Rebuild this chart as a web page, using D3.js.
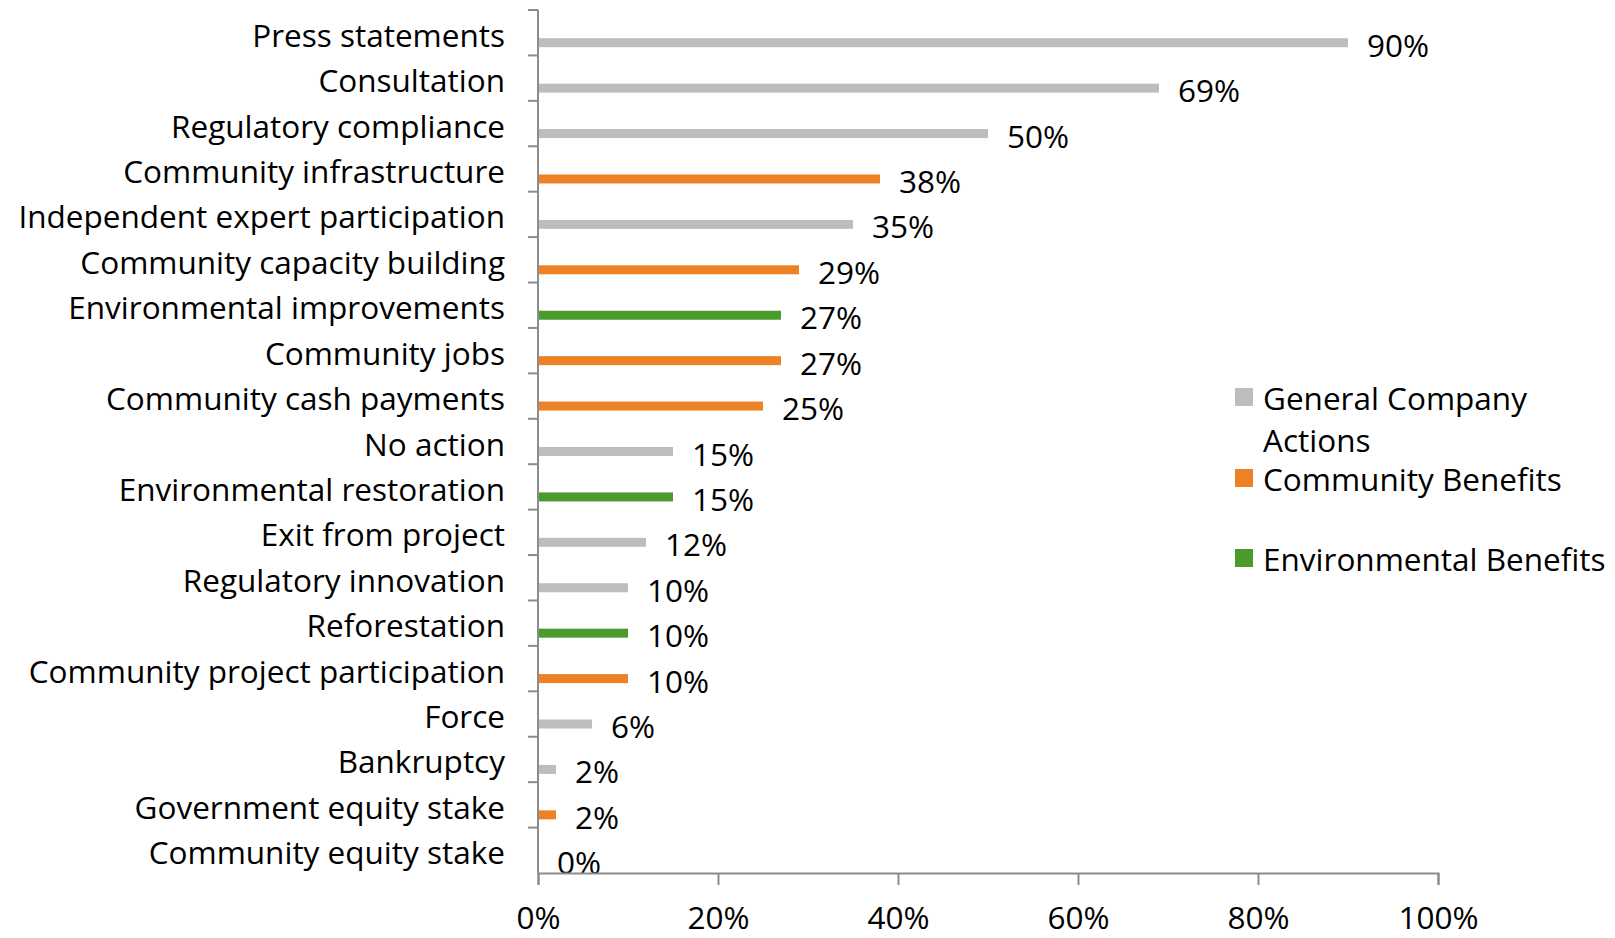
<!DOCTYPE html>
<html>
<head>
<meta charset="utf-8">
<script src="https://cdn.jsdelivr.net/npm/d3@7"></script>
<style>
  html, body { margin: 0; background: #fff; overflow: hidden; }
  svg { display: block; }
  text { font-family: "Open Sans", Lato, sans-serif; fill: #000; }
</style>
</head>
<body>
<div id="chart"></div>
<script>
// Chart data
const categories = [
    "Press statements", "Consultation", "Regulatory compliance", "Community infrastructure",
    "Independent expert participation", "Community capacity building", "Environmental improvements",
    "Community jobs", "Community cash payments", "No action", "Environmental restoration",
    "Exit from project", "Regulatory innovation", "Reforestation", "Community project participation",
    "Force", "Bankruptcy", "Government equity stake", "Community equity stake"
];
const values = [90, 69, 50, 38, 35, 29, 27, 27, 25, 15, 15, 12, 10, 10, 10, 6, 2, 2, 0];
const groups = [
    "general", "general", "general", "community", "general", "community", "environment",
    "community", "community", "general", "environment", "general", "general", "environment",
    "community", "general", "general", "community", "community"
];
const seriesKeys = ["general", "community", "environment"];
const seriesNames = ["General Company Actions", "Community Benefits", "Environmental Benefits"];
const xTicks = [0, 20, 40, 60, 80, 100];

const width = 1615, height = 938;
const margin = { top: 10, right: 177, bottom: 65, left: 538 };
const innerWidth = width - margin.left - margin.right;
const innerHeight = height - margin.top - margin.bottom;
const fontSize = '31.5px';

const color = d3.scaleOrdinal()
    .domain(seriesKeys)
    .range(["#bdbdbd", "#ee8125", "#4b9b2c"]);

const svg = d3.select('#chart')
    .append('svg')
    .attr('width', width)
    .attr('height', height)
    .append('g')
    .attr('transform', `translate(${margin.left},${margin.top})`);

const x = d3.scaleLinear().domain([0, 100]).range([0, innerWidth]);
const y = d3.scaleBand().domain(categories).range([0, innerHeight]);

const barH = 9;
const barOffset = y.bandwidth() * 0.72;

// Bars
svg.selectAll('.bar')
    .data(categories)
    .join('rect')
    .attr('class', 'bar')
    .attr('x', 0)
    .attr('y', d => y(d) + barOffset - barH / 2)
    .attr('width', (d, i) => x(values[i]))
    .attr('height', barH)
    .attr('fill', (d, i) => color(groups[i]));

// Value labels
svg.selectAll('.value')
    .data(categories)
    .join('text')
    .attr('class', 'value')
    .attr('x', (d, i) => x(values[i]) + 19)
    .attr('y', d => y(d) + barOffset + 3)
    .attr('dy', '0.35em')
    .style('font-size', fontSize)
    .text((d, i) => values[i] + '%');

// Y axis (ticks at category boundaries)
const axisColor = '#8c8c8c';
svg.append('line')
    .attr('x1', 0).attr('x2', 0)
    .attr('y1', 0).attr('y2', innerHeight)
    .attr('stroke', axisColor).attr('stroke-width', 2);

svg.selectAll('.ytick')
    .data(categories)
    .join('line')
    .attr('class', 'ytick')
    .attr('x1', -10).attr('x2', 0)
    .attr('y1', d => y(d)).attr('y2', d => y(d))
    .attr('stroke', axisColor).attr('stroke-width', 2);

svg.selectAll('.cat')
    .data(categories)
    .join('text')
    .attr('class', 'cat')
    .attr('x', -33)
    .attr('y', d => y(d) + y.bandwidth() / 2 + 3)
    .attr('dy', '0.35em')
    .attr('text-anchor', 'end')
    .style('font-size', fontSize)
    .text(d => d);

// X axis
const xAxis = d3.axisBottom(x)
    .tickValues(xTicks)
    .tickSize(12)
    .tickPadding(22)
    .tickFormat(d => d + '%');

const gx = svg.append('g')
    .attr('transform', `translate(0,${innerHeight})`)
    .call(xAxis);
gx.select('.domain').attr('stroke', axisColor).attr('stroke-width', 2);
gx.selectAll('.tick line').attr('stroke', axisColor).attr('stroke-width', 2);
gx.selectAll('.tick text')
    .style('font-size', fontSize)
    .style('font-family', '"Open Sans", Lato, sans-serif')
    .attr('fill', '#000');

// Legend
const legendLines = [
    [{ text: "General Company", y: 399 }, { text: "Actions", y: 441 }],
    [{ text: "Community Benefits", y: 480 }],
    [{ text: "Environmental Benefits", y: 560 }]
];
const legend = d3.select('svg').append('g');
seriesKeys.forEach((k, i) => {
    const lines = legendLines[i];
    legend.append('rect')
        .attr('x', 1235)
        .attr('y', lines[0].y - 11)
        .attr('width', 18)
        .attr('height', 18)
        .attr('fill', color(k));
    lines.forEach(l => {
        legend.append('text')
            .attr('x', 1263)
            .attr('y', l.y)
            .attr('dy', '0.35em')
            .style('font-size', fontSize)
            .text(l.text);
    });
});
</script>
</body>
</html>
